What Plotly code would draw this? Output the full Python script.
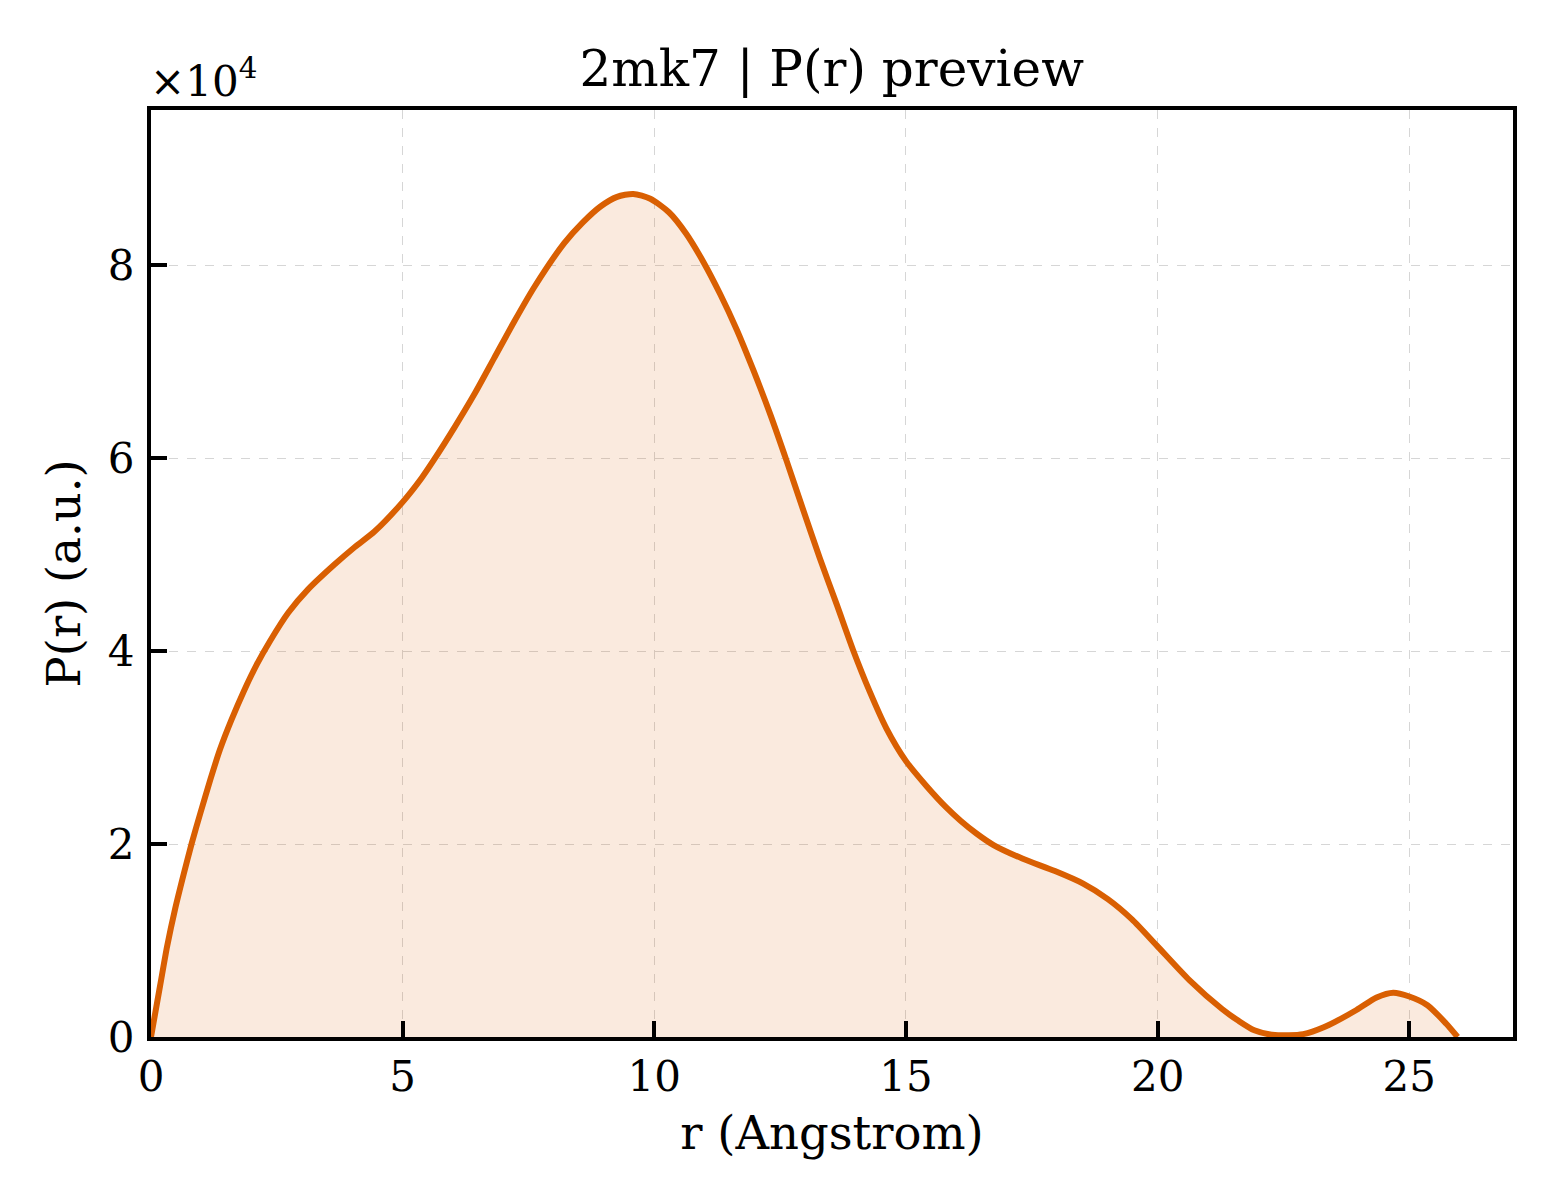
"""
P(r) preview plot for 2mk7
"""

import plotly.graph_objects as go

# r in Angstrom, P(r) in arbitrary units
r = [0, 0.18, 0.32, 0.48, 0.65, 0.81, 0.98, 1.18, 1.37, 1.60, 1.84, 2.10,
     2.36, 2.73, 3.12, 3.65, 4.05, 4.44, 4.99, 5.37, 5.63, 6.03, 6.42, 6.82,
     7.22, 7.61, 8.21, 8.57, 8.93, 9.26, 9.58, 9.92, 10.29, 10.63, 10.98,
     11.31, 11.64, 11.97, 12.30, 12.63, 12.96, 13.29, 13.62, 13.95, 14.28,
     14.61, 15.0, 15.41, 15.80, 16.09, 16.40, 16.74, 17.31, 17.96, 18.52,
     19.01, 19.49, 19.98, 20.63, 21.28, 21.60, 21.92, 22.33, 22.89, 23.30,
     23.95, 24.35, 24.68, 25.0, 25.36, 25.73, 25.96]
pr = [0, 5300, 9400, 13300, 16900, 20100, 23200, 26700, 29800, 32900, 35800,
      38600, 41000, 44000, 46400, 49000, 50800, 52400, 55400, 57900, 59900,
      63200, 66600, 70400, 74200, 77700, 82300, 84400, 86100, 87100, 87400,
      86900, 85500, 83300, 80300, 77000, 73300, 69100, 64600, 59700, 54600,
      49600, 44900, 40100, 35800, 32000, 28600, 26000, 23800, 22400, 21100,
      19900, 18500, 17200, 15900, 14300, 12200, 9500, 5900, 2900, 1700, 700,
      200, 300, 1000, 2800, 4100, 4600, 4200, 3300, 1400, 0]

y_ticks = [0, 20000, 40000, 60000, 80000]
y_tick_text = ['0', '2', '4', '6', '8']
x_ticks = [0, 5, 10, 15, 20, 25]

font = 'DejaVu Serif'

fig = go.Figure()
fig.add_trace(go.Scatter(
    x=r, y=pr, mode='lines',
    line=dict(color='#d95f02', width=6, shape='spline', smoothing=0.7),
    fill='tozeroy', fillcolor='rgba(217,95,2,0.13)',
    showlegend=False,
))

axis_common = dict(
    showline=True, linecolor='black', linewidth=4, mirror=True,
    ticks='inside', ticklen=16, tickwidth=3.5, tickcolor='black',
    showgrid=True, gridcolor='#d6d6d6', gridwidth=1.4, griddash='dash',
    zeroline=False, tickfont=dict(family=font, size=42, color='black'),
)

fig.update_xaxes(
    range=[0, 27.06], tickvals=x_ticks, ticklabelstandoff=0,
    title=dict(text='r (Angstrom)', font=dict(family=font, size=46.5, color='black'),
               standoff=17),
    **axis_common)
fig.update_yaxes(
    range=[0, 96100], tickvals=y_ticks, ticktext=y_tick_text, ticklabelstandoff=4,
    title=dict(text='P(r) (a.u.)', font=dict(family=font, size=46.5, color='black'),
               standoff=14),
    **axis_common)

#> offset text like matplotlib's scientific notation
fig.add_annotation(
    text='×10<sup>4</sup>', xref='paper', yref='paper', x=0, y=1,
    xanchor='left', yanchor='bottom', xshift=-3, yshift=2, showarrow=False,
    font=dict(family=font, size=42, color='black'),
)

# page body has a small margin, so the margins are trimmed to match
fig.update_layout(
    width=1560, height=1200,
    margin=dict(l=143, r=55, t=102, b=171),
    paper_bgcolor='white', plot_bgcolor='white',
    title=dict(text='2mk7 | P(r) preview', x=0.528, xanchor='center',
               y=1 - 60 / 1200, yanchor='middle',
               font=dict(family=font, size=50, color='black')),
)

fig.write_html('out.html')
